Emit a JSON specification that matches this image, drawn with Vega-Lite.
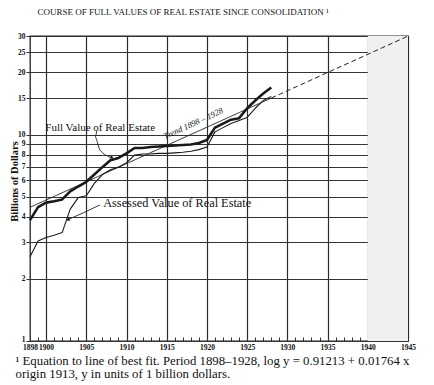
{
  "$schema": "https://vega.github.io/schema/vega-lite/v6.json",
  "width": 378,
  "height": 305,
  "autosize": {"type": "none"},
  "padding": {"left": 30, "top": 36, "right": 26, "bottom": 44},
  "background": "white",
  "config": {
    "view": {"stroke": "#222", "strokeWidth": 1.3},
    "font": "Liberation Serif",
    "text": {"font": "Liberation Serif"}
  },
  "title": {
    "text": "COURSE OF FULL VALUES OF REAL ESTATE SINCE CONSOLIDATION ¹",
    "anchor": "middle",
    "dx": -36,
    "offset": 8,
    "baseline": "alphabetic",
    "font": "Liberation Serif",
    "fontSize": 9,
    "fontWeight": "normal",
    "color": "#111"
  },
  "datasets": {
    "series": [
      {"year": 1898, "value": 3.85, "series": "Full"},
      {"year": 1899, "value": 4.45, "series": "Full"},
      {"year": 1900, "value": 4.68, "series": "Full"},
      {"year": 1901, "value": 4.75, "series": "Full"},
      {"year": 1902, "value": 4.85, "series": "Full"},
      {"year": 1903, "value": 5.3, "series": "Full"},
      {"year": 1904, "value": 5.6, "series": "Full"},
      {"year": 1905, "value": 5.9, "series": "Full"},
      {"year": 1906, "value": 6.4, "series": "Full"},
      {"year": 1907, "value": 6.95, "series": "Full"},
      {"year": 1908, "value": 7.5, "series": "Full"},
      {"year": 1909, "value": 7.7, "series": "Full"},
      {"year": 1910, "value": 8.1, "series": "Full"},
      {"year": 1911, "value": 8.6, "series": "Full"},
      {"year": 1912, "value": 8.6, "series": "Full"},
      {"year": 1913, "value": 8.7, "series": "Full"},
      {"year": 1914, "value": 8.75, "series": "Full"},
      {"year": 1915, "value": 8.8, "series": "Full"},
      {"year": 1916, "value": 8.85, "series": "Full"},
      {"year": 1917, "value": 8.9, "series": "Full"},
      {"year": 1918, "value": 8.95, "series": "Full"},
      {"year": 1919, "value": 9.1, "series": "Full"},
      {"year": 1920, "value": 9.4, "series": "Full"},
      {"year": 1921, "value": 10.8, "series": "Full"},
      {"year": 1922, "value": 11.3, "series": "Full"},
      {"year": 1923, "value": 11.8, "series": "Full"},
      {"year": 1924, "value": 12.0, "series": "Full"},
      {"year": 1925, "value": 13.4, "series": "Full"},
      {"year": 1926, "value": 14.6, "series": "Full"},
      {"year": 1927, "value": 15.8, "series": "Full"},
      {"year": 1928, "value": 16.9, "series": "Full"},
      {"year": 1898, "value": 2.56, "series": "Assessed"},
      {"year": 1899, "value": 3.05, "series": "Assessed"},
      {"year": 1900, "value": 3.17, "series": "Assessed"},
      {"year": 1901, "value": 3.25, "series": "Assessed"},
      {"year": 1902, "value": 3.35, "series": "Assessed"},
      {"year": 1903, "value": 4.35, "series": "Assessed"},
      {"year": 1904, "value": 4.95, "series": "Assessed"},
      {"year": 1905, "value": 5.05, "series": "Assessed"},
      {"year": 1906, "value": 5.8, "series": "Assessed"},
      {"year": 1907, "value": 6.4, "series": "Assessed"},
      {"year": 1908, "value": 6.75, "series": "Assessed"},
      {"year": 1909, "value": 6.95, "series": "Assessed"},
      {"year": 1910, "value": 7.3, "series": "Assessed"},
      {"year": 1911, "value": 7.95, "series": "Assessed"},
      {"year": 1912, "value": 8.05, "series": "Assessed"},
      {"year": 1913, "value": 8.05, "series": "Assessed"},
      {"year": 1914, "value": 8.1, "series": "Assessed"},
      {"year": 1915, "value": 8.1, "series": "Assessed"},
      {"year": 1916, "value": 8.15, "series": "Assessed"},
      {"year": 1917, "value": 8.2, "series": "Assessed"},
      {"year": 1918, "value": 8.3, "series": "Assessed"},
      {"year": 1919, "value": 8.45, "series": "Assessed"},
      {"year": 1920, "value": 8.7, "series": "Assessed"},
      {"year": 1921, "value": 10.3, "series": "Assessed"},
      {"year": 1922, "value": 10.8, "series": "Assessed"},
      {"year": 1923, "value": 11.3, "series": "Assessed"},
      {"year": 1924, "value": 11.7, "series": "Assessed"},
      {"year": 1925, "value": 12.1, "series": "Assessed"},
      {"year": 1926, "value": 13.4, "series": "Assessed"},
      {"year": 1927, "value": 14.6, "series": "Assessed"},
      {"year": 1928, "value": 15.3, "series": "Assessed"}
    ],
    "trend": [
      {"year": 1898, "value": 4.44, "part": "fit"},
      {"year": 1928, "value": 15.02, "part": "fit"},
      {"year": 1928, "value": 15.02, "part": "projection"},
      {"year": 1945, "value": 29.97, "part": "projection"}
    ],
    "fullLabel": [
      {"year": 1899.9, "value": 10.75, "text": "Full Value of Real Estate"}
    ],
    "assessedLabel": [
      {"year": 1907.1, "value": 4.66, "text": "Assessed Value of Real Estate"}
    ],
    "trendLabel": [
      {"year": 1918.3, "value": 11.35, "text": "Trend  1898 – 1928"}
    ],
    "arrows": [
      {"id": "full", "ord": 0, "year": 1906.3, "value": 10.4},
      {"id": "full", "ord": 1, "year": 1906.1, "value": 9.72},
      {"id": "full", "ord": 2, "year": 1906.7, "value": 8.41},
      {"id": "full", "ord": 3, "year": 1908.2, "value": 7.72},
      {"id": "assessed", "ord": 0, "year": 1906.7, "value": 4.56},
      {"id": "assessed", "ord": 1, "year": 1904.6, "value": 4.17},
      {"id": "assessed", "ord": 2, "year": 1902.7, "value": 3.87}
    ],
    "heads": [
      {"id": "full", "year": 1908.2, "value": 7.72, "angle": 34},
      {"id": "assessed", "year": 1902.7, "value": 3.87, "angle": 155}
    ],
    "shade": [
      {"from": 1940, "to": 1945, "low": 1, "high": 30}
    ]
  },
  "layer": [
    {
      "data": {"name": "shade"},
      "mark": {"type": "rect", "color": "#f0f0f0"},
      "encoding": {
        "x": {
          "field": "from",
          "type": "quantitative",
          "scale": {"domain": [1898, 1945], "nice": false, "zero": false},
          "axis": {
            "values": [1898,1899,1900,1901,1902,1903,1904,1905,1906,1907,1908,1909,1910,1911,1912,1913,1914,1915,1916,1917,1918,1919,1920,1921,1922,1923,1924,1925,1926,1927,1928,1929,1930,1931,1932,1933,1934,1935,1936,1937,1938,1939,1940,1941,1942,1943,1944,1945],
            "tickCount": 100,
            "format": "d",
            "labelExpr": "indexof([1898,1900,1905,1910,1915,1920,1925,1930,1935,1940,1945], datum.value) >= 0 ? datum.label : ''",
            "labelOverlap": false,
            "labelFlush": false,
            "labelBound": false,
            "labelFont": "Liberation Serif",
            "labelFontSize": 7.5,
            "labelFontWeight": "bold",
            "labelColor": "#111",
            "labelPadding": 6,
            "grid": true,
            "gridColor": "#2a2a2a",
            "gridWidth": 1.2,
            "gridOpacity": {"condition": {"test": "datum.value % 5 == 0 && datum.value > 1898", "value": 1}, "value": 0},
            "ticks": true,
            "tickSize": -4,
            "tickColor": "#333",
            "domain": false,
            "title": ["\u00a0¹ Equation to line of best fit.  Period 1898–1928, log y = 0.91213 + 0.01764 x", "origin 1913, y in units of 1 billion dollars."],
            "titleFont": "Liberation Serif",
            "titleFontSize": 12.8,
            "titleFontWeight": "normal",
            "titleColor": "#111",
            "titleAnchor": "start",
            "titleAlign": "left",
            "titleBaseline": "alphabetic",
            "titleLineHeight": 13,
            "titleX": -15,
            "titleY": 23
          }
        },
        "x2": {"field": "to"},
        "y": {
          "field": "low",
          "type": "quantitative",
          "scale": {"type": "log", "domain": [1, 30], "nice": false},
          "axis": {
            "values": [1,2,3,4,5,6,7,8,9,10,15,20,25,30],
            "tickCount": 100,
            "format": "d",
            "labelOverlap": false,
            "labelFlush": false,
            "labelBound": false,
            "labelFont": "Liberation Serif",
            "labelFontSize": 7.5,
            "labelFontWeight": "bold",
            "labelColor": "#111",
            "labelPadding": 1,
            "labelBaseline": {"condition": {"test": "datum.value == 1", "value": "alphabetic"}, "value": "middle"},
            "grid": true,
            "gridColor": "#333",
            "gridWidth": 1,
            "ticks": true,
            "tickSize": 4,
            "tickColor": "#333",
            "domain": false,
            "title": "Billions of Dollars",
            "titleFont": "Liberation Serif",
            "titleFontSize": 10.5,
            "titleFontWeight": "bold",
            "titleColor": "#111",
            "titleAngle": -90,
            "titleAlign": "center",
            "titleBaseline": "middle",
            "titleX": -16,
            "titleY": 145
          }
        },
        "y2": {"field": "high"}
      }
    },
    {
      "data": {"name": "trend"},
      "mark": {"type": "line", "color": "#222", "strokeWidth": 1},
      "encoding": {
        "x": {"field": "year", "type": "quantitative"},
        "y": {"field": "value", "type": "quantitative"},
        "detail": {"field": "part"},
        "strokeDash": {"field": "part", "type": "nominal", "scale": {"domain": ["fit", "projection"], "range": [[1, 0], [5, 3]]}, "legend": null}
      }
    },
    {
      "data": {"name": "series"},
      "mark": {"type": "line", "color": "#1a1a1a", "strokeJoin": "round"},
      "encoding": {
        "x": {"field": "year", "type": "quantitative"},
        "y": {"field": "value", "type": "quantitative"},
        "detail": {"field": "series"},
        "strokeWidth": {"field": "series", "type": "nominal", "scale": {"domain": ["Full", "Assessed"], "range": [2.6, 1.1]}, "legend": null}
      }
    },
    {
      "data": {"name": "arrows"},
      "mark": {"type": "line", "color": "#222", "strokeWidth": 0.9, "interpolate": "monotone"},
      "encoding": {
        "x": {"field": "year", "type": "quantitative"},
        "y": {"field": "value", "type": "quantitative"},
        "detail": {"field": "id"},
        "order": {"field": "ord"}
      }
    },
    {
      "data": {"name": "heads"},
      "mark": {"type": "point", "shape": "triangle-right", "filled": true, "color": "#222", "size": 18, "opacity": 1},
      "encoding": {
        "x": {"field": "year", "type": "quantitative"},
        "y": {"field": "value", "type": "quantitative"},
        "angle": {"field": "angle", "type": "quantitative", "scale": null}
      }
    },
    {
      "data": {"name": "fullLabel"},
      "mark": {"type": "text", "align": "left", "baseline": "middle", "fontSize": 11, "color": "#111", "font": "Liberation Serif"},
      "encoding": {
        "x": {"field": "year", "type": "quantitative"},
        "y": {"field": "value", "type": "quantitative"},
        "text": {"field": "text"}
      }
    },
    {
      "data": {"name": "assessedLabel"},
      "mark": {"type": "text", "align": "left", "baseline": "middle", "fontSize": 12.3, "color": "#111", "font": "Liberation Serif"},
      "encoding": {
        "x": {"field": "year", "type": "quantitative"},
        "y": {"field": "value", "type": "quantitative"},
        "text": {"field": "text"}
      }
    },
    {
      "data": {"name": "trendLabel"},
      "mark": {"type": "text", "align": "center", "baseline": "middle", "fontSize": 8.5, "fontStyle": "italic", "angle": 335.5, "color": "#111", "font": "Liberation Serif"},
      "encoding": {
        "x": {"field": "year", "type": "quantitative"},
        "y": {"field": "value", "type": "quantitative"},
        "text": {"field": "text"}
      }
    }
  ]
}
